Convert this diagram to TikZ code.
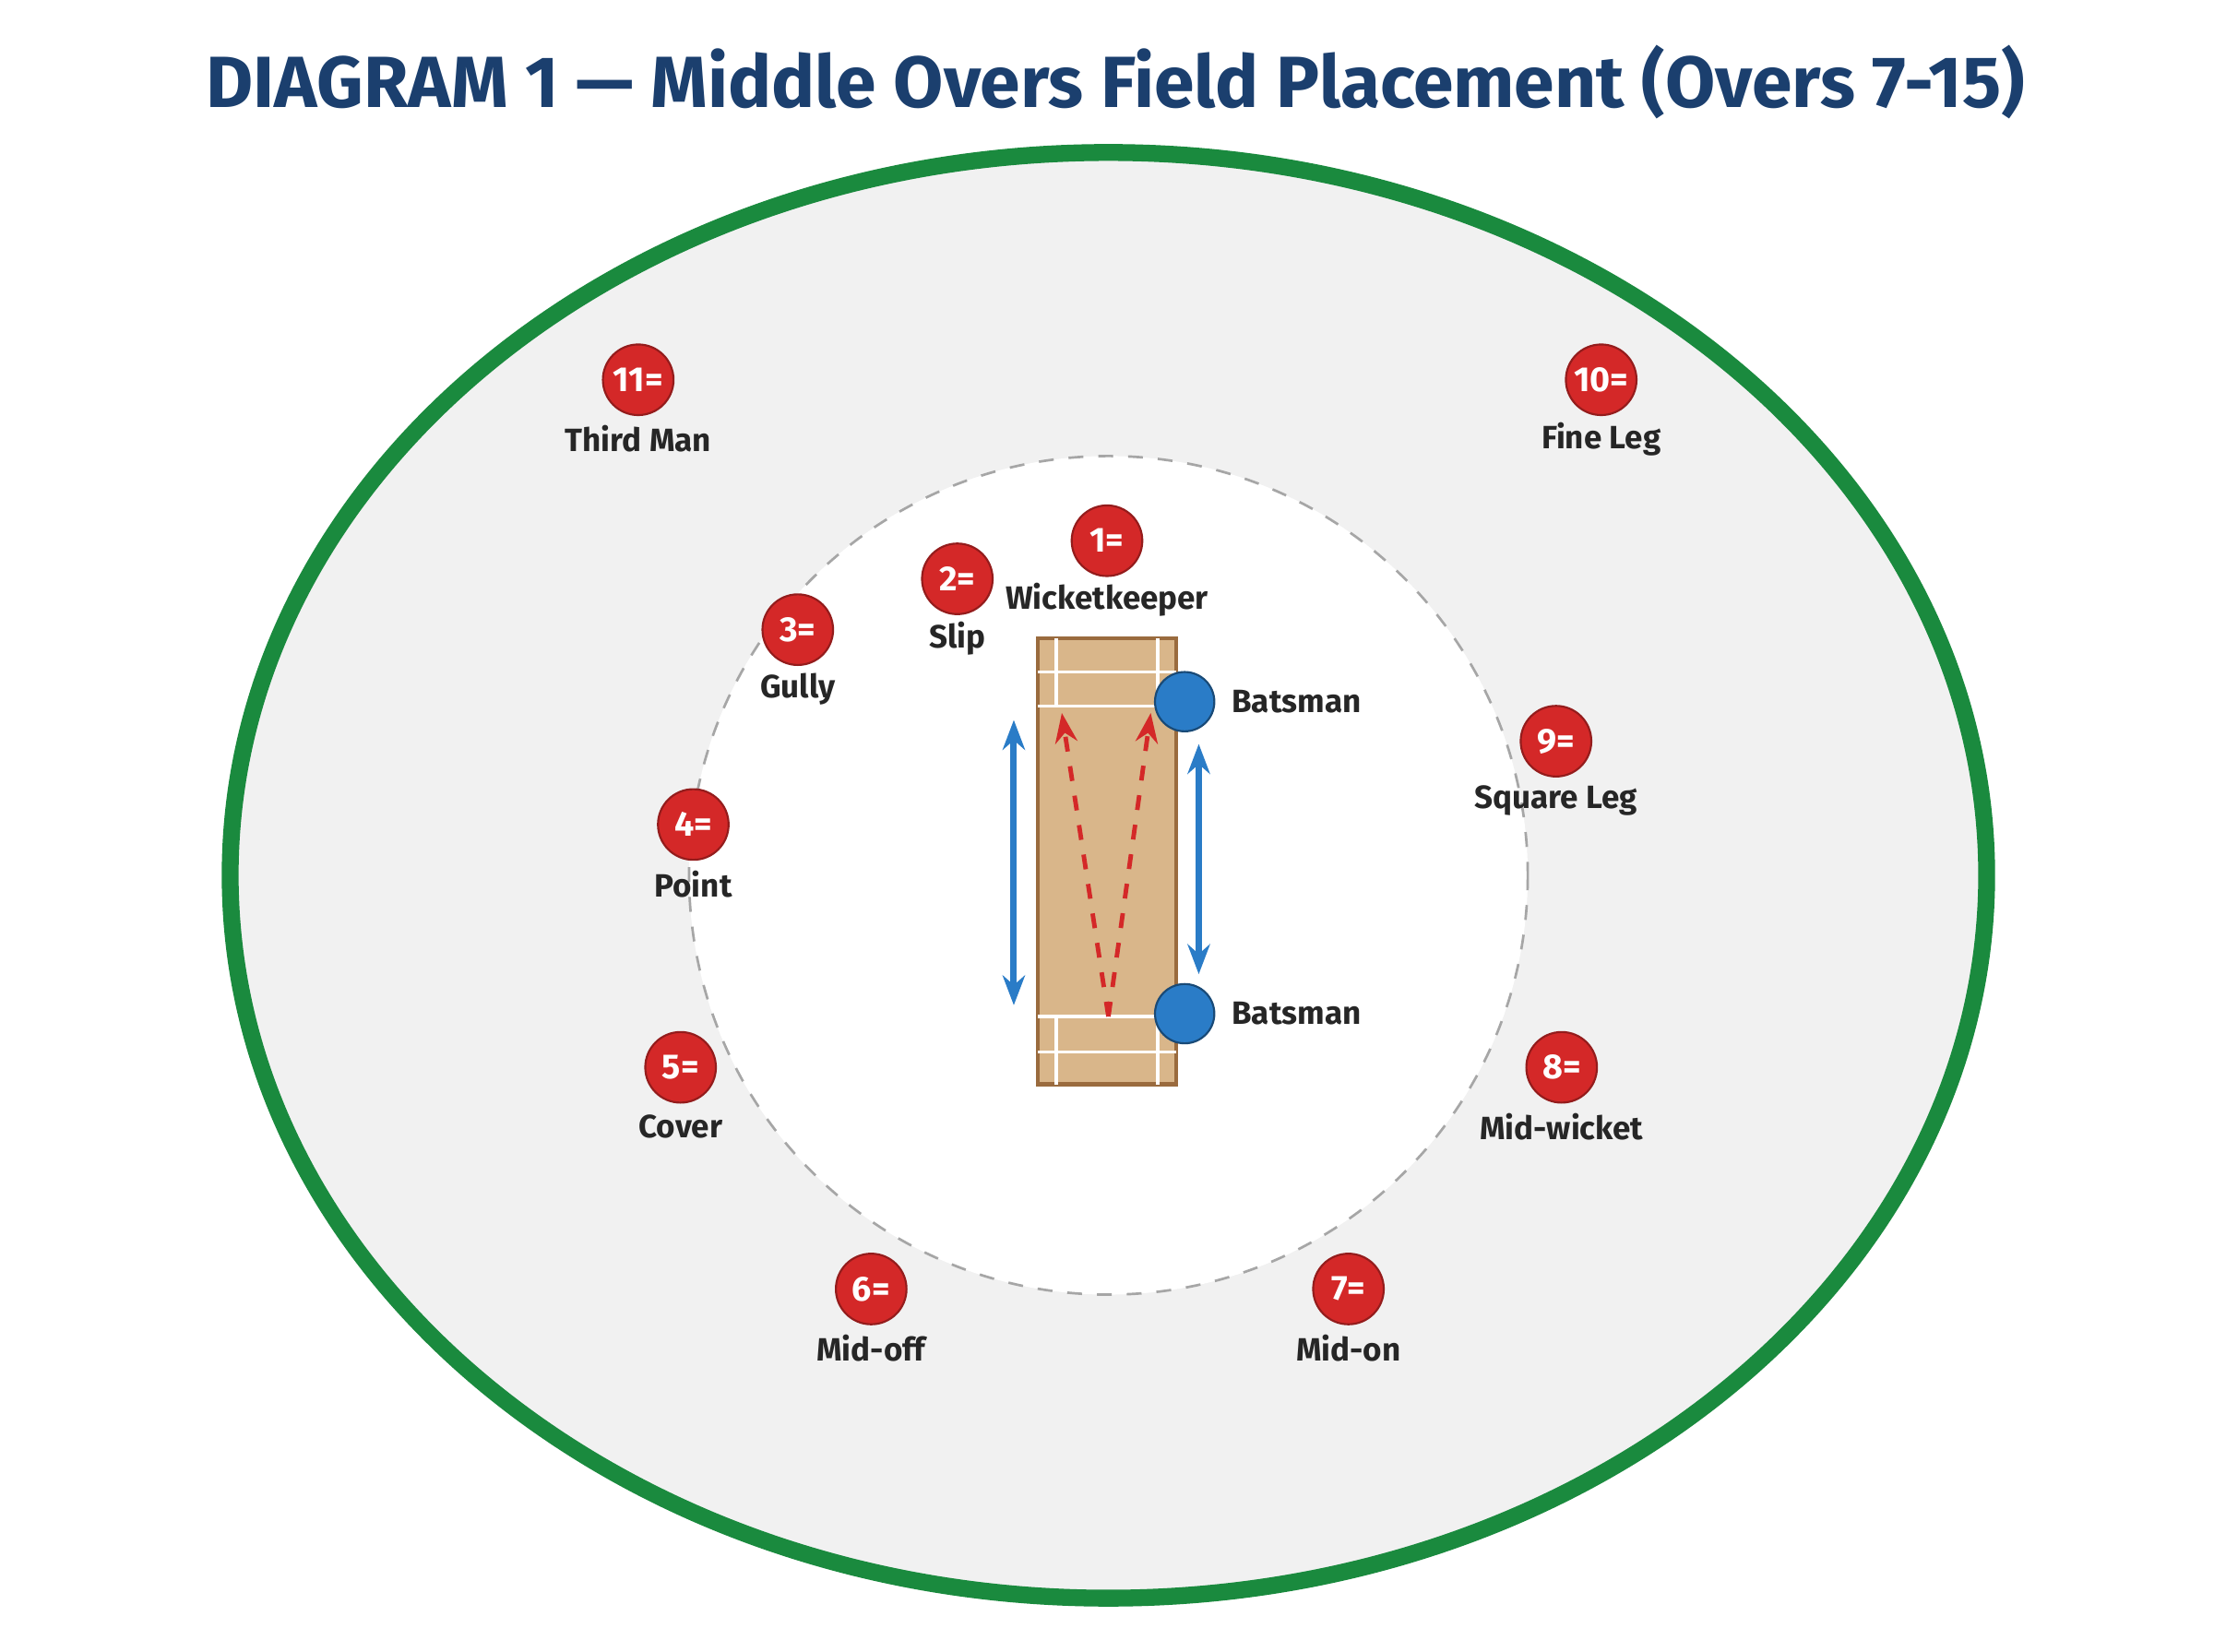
\documentclass[tikz,border=0pt]{standalone}
\usepackage{fontspec}
\setmainfont{Fira Sans}
\usetikzlibrary{arrows.meta}
\definecolor{titleblue}{HTML}{1B3F6E}
\definecolor{fieldgreen}{HTML}{1A8A3E}
\definecolor{grass}{HTML}{F1F1F1}
\definecolor{pitchtan}{HTML}{D9B68A}
\definecolor{pitchedge}{HTML}{9A6B3E}
\definecolor{fielderred}{HTML}{D42828}
\definecolor{batblue}{HTML}{2A7CC7}
\begin{document}
\begin{tikzpicture}[x=0.01cm, y=-0.01cm]
        \tikzstyle{fielder} = [circle, fill=fielderred, draw=fielderred!70!black, minimum size=0.5cm, inner sep=0pt, text=white, font=\bfseries\fontsize{7}{8}\selectfont]
        \tikzstyle{poslabel} = [font=\fontsize{6.5}{8}\selectfont\bfseries, text=black!85]
        \tikzstyle{batsman} = [circle, fill=batblue, draw=batblue!60!black, minimum size=0.42cm, inner sep=0pt]
        \tikzstyle{crease} = [white, line width=0.6pt]

		\useasboundingbox (0,0) rectangle (1568,1170);
		\fill[white] (0,0) rectangle (1568,1170);

		\node[font=\bfseries\fontsize{14.6}{18}\selectfont, text=titleblue] (title) at (790,58) {DIAGRAM 1 — Middle Overs Field Placement (Overs 7-15)};

		% ground and circle
		\draw[fill=grass, draw=fieldgreen, line width=3.4pt] (785,620) ellipse [x radius=622, y radius=512];
		\draw[fill=white, draw=gray!70, dashed, line width=0.5pt] (785,620) circle [radius=297];

		% pitch
		\draw[fill=pitchtan, draw=pitchedge, line width=0.8pt] (735,452) rectangle (833,768);
		\draw[crease] (735,476) -- (833,476);
		\draw[crease] (735,500) -- (833,500);
		\draw[crease] (735,720) -- (833,720);
		\draw[crease] (735,745) -- (833,745);
		\draw[crease] (748,452) -- (748,500);
		\draw[crease] (820,452) -- (820,500);
		\draw[crease] (748,720) -- (748,768);
		\draw[crease] (820,720) -- (820,768);

		% batsmen
		\node[batsman] (bat1) at (839,497) {};
		\node[batsman] (bat2) at (839,718) {};
		\node[poslabel, anchor=west] (bat1l) at (860,497) {Batsman};
		\node[poslabel, anchor=west] (bat2l) at (860,718) {Batsman};

		% runs
		\coordinate (runA1) at (718,510);
		\coordinate (runA2) at (718,712);
		\coordinate (runB1) at (849,527);
		\coordinate (runB2) at (849,690);
		\draw[batblue, line width=1.3pt, {Stealth[length=6pt]}-{Stealth[length=6pt]}] (runA1) -- (runA2);
		\draw[batblue, line width=1.3pt, {Stealth[length=6pt]}-{Stealth[length=6pt]}] (runB1) -- (runB2);

		% bowling lines
		\coordinate (release) at (785,720);
		\coordinate (lineL) at (752,505);
		\coordinate (lineR) at (815,505);
		\draw[fielderred, dashed, line width=0.9pt, -{Stealth[length=6pt]}] (release) -- (lineL);
		\draw[fielderred, dashed, line width=0.9pt, -{Stealth[length=6pt]}] (release) -- (lineR);

		% fielders
		\foreach \n/\x/\y/\lab in {1/784/383/Wicketkeeper, 2/678/410/Slip, 3/565/446/Gully, 4/491/584/Point, 5/482/756/Cover, 6/617/913/Mid-off, 7/955/913/Mid-on, 8/1106/756/Mid-wicket, 9/1102/525/Square Leg, 10/1134/269/Fine Leg, 11/452/269/Third Man}
		{
			\node[fielder] (f\n) at (\x,\y) {\n=};
			\node[poslabel] (f\n l) at (\x,\y+42) {\lab};
		}

    \end{tikzpicture}
\end{document}
